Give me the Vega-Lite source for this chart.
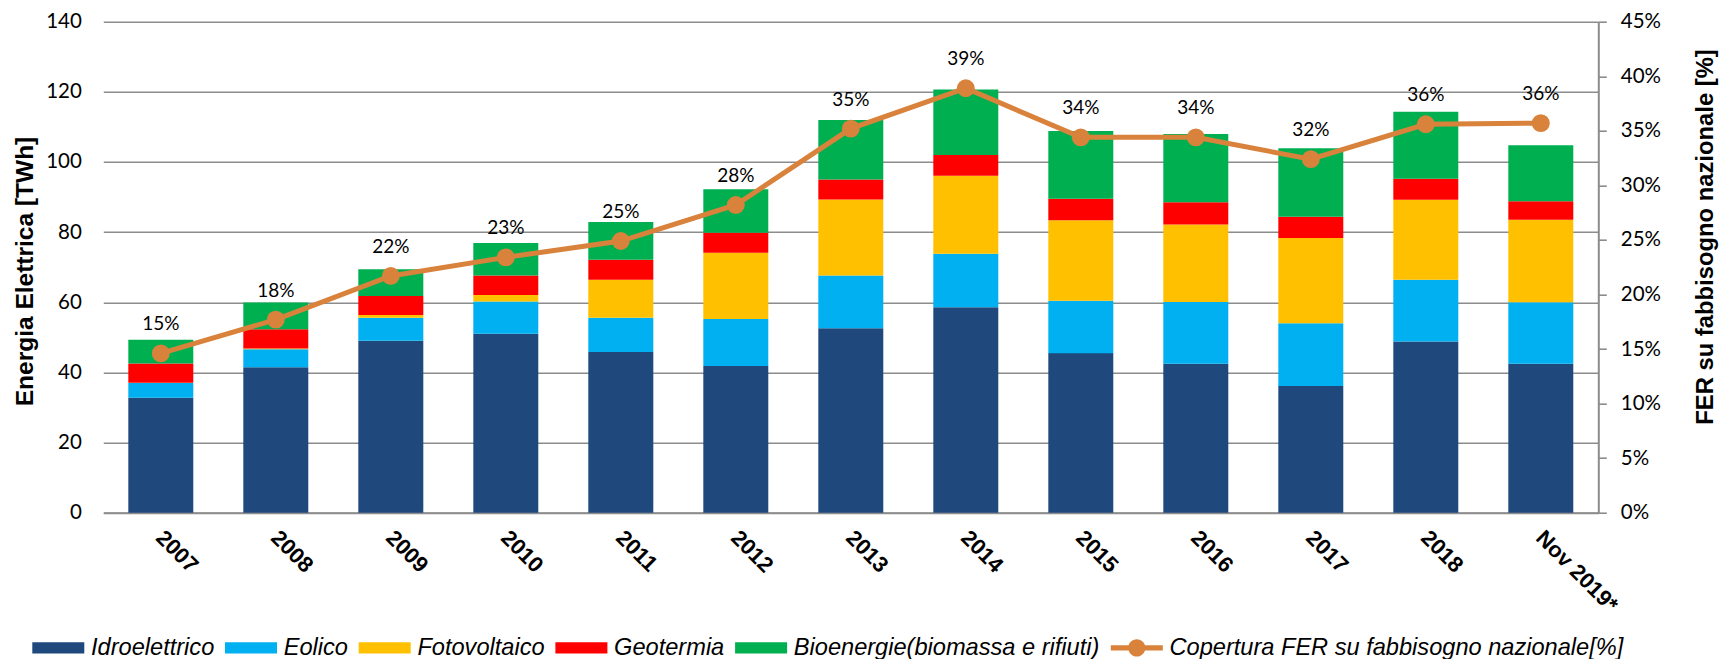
{
  "$schema": "https://vega.github.io/schema/vega-lite/v6.json",
  "autosize": {"type": "none"},
  "width": 1495,
  "height": 491,
  "padding": {"left": 103.3, "top": 21.7, "right": 121.7, "bottom": 146.3},
  "background": "white",
  "config": {
    "view": {"stroke": null},
    "axis": {"labelColor": "#000000", "titleColor": "#000000"}
  },
  "datasets": {
    "bars": [
      {"anno": "2007", "fonte": "Idroelettrico", "twh": 32.8},
      {"anno": "2007", "fonte": "Eolico", "twh": 4.2},
      {"anno": "2007", "fonte": "Fotovoltaico", "twh": 0.04},
      {"anno": "2007", "fonte": "Geotermia", "twh": 5.5},
      {"anno": "2007", "fonte": "Bioenergie(biomassa e rifiuti)", "twh": 6.8},
      {"anno": "2008", "fonte": "Idroelettrico", "twh": 41.5},
      {"anno": "2008", "fonte": "Eolico", "twh": 5.1},
      {"anno": "2008", "fonte": "Fotovoltaico", "twh": 0.2},
      {"anno": "2008", "fonte": "Geotermia", "twh": 5.5},
      {"anno": "2008", "fonte": "Bioenergie(biomassa e rifiuti)", "twh": 7.6},
      {"anno": "2009", "fonte": "Idroelettrico", "twh": 49.0},
      {"anno": "2009", "fonte": "Eolico", "twh": 6.6},
      {"anno": "2009", "fonte": "Fotovoltaico", "twh": 0.8},
      {"anno": "2009", "fonte": "Geotermia", "twh": 5.4},
      {"anno": "2009", "fonte": "Bioenergie(biomassa e rifiuti)", "twh": 7.6},
      {"anno": "2010", "fonte": "Idroelettrico", "twh": 51.0},
      {"anno": "2010", "fonte": "Eolico", "twh": 9.2},
      {"anno": "2010", "fonte": "Fotovoltaico", "twh": 1.9},
      {"anno": "2010", "fonte": "Geotermia", "twh": 5.5},
      {"anno": "2010", "fonte": "Bioenergie(biomassa e rifiuti)", "twh": 9.3},
      {"anno": "2011", "fonte": "Idroelettrico", "twh": 45.8},
      {"anno": "2011", "fonte": "Eolico", "twh": 9.8},
      {"anno": "2011", "fonte": "Fotovoltaico", "twh": 10.8},
      {"anno": "2011", "fonte": "Geotermia", "twh": 5.7},
      {"anno": "2011", "fonte": "Bioenergie(biomassa e rifiuti)", "twh": 10.8},
      {"anno": "2012", "fonte": "Idroelettrico", "twh": 41.8},
      {"anno": "2012", "fonte": "Eolico", "twh": 13.4},
      {"anno": "2012", "fonte": "Fotovoltaico", "twh": 18.9},
      {"anno": "2012", "fonte": "Geotermia", "twh": 5.7},
      {"anno": "2012", "fonte": "Bioenergie(biomassa e rifiuti)", "twh": 12.4},
      {"anno": "2013", "fonte": "Idroelettrico", "twh": 52.6},
      {"anno": "2013", "fonte": "Eolico", "twh": 15.0},
      {"anno": "2013", "fonte": "Fotovoltaico", "twh": 21.7},
      {"anno": "2013", "fonte": "Geotermia", "twh": 5.7},
      {"anno": "2013", "fonte": "Bioenergie(biomassa e rifiuti)", "twh": 17.0},
      {"anno": "2014", "fonte": "Idroelettrico", "twh": 58.6},
      {"anno": "2014", "fonte": "Eolico", "twh": 15.2},
      {"anno": "2014", "fonte": "Fotovoltaico", "twh": 22.3},
      {"anno": "2014", "fonte": "Geotermia", "twh": 5.9},
      {"anno": "2014", "fonte": "Bioenergie(biomassa e rifiuti)", "twh": 18.7},
      {"anno": "2015", "fonte": "Idroelettrico", "twh": 45.5},
      {"anno": "2015", "fonte": "Eolico", "twh": 14.9},
      {"anno": "2015", "fonte": "Fotovoltaico", "twh": 23.0},
      {"anno": "2015", "fonte": "Geotermia", "twh": 6.1},
      {"anno": "2015", "fonte": "Bioenergie(biomassa e rifiuti)", "twh": 19.3},
      {"anno": "2016", "fonte": "Idroelettrico", "twh": 42.5},
      {"anno": "2016", "fonte": "Eolico", "twh": 17.6},
      {"anno": "2016", "fonte": "Fotovoltaico", "twh": 22.1},
      {"anno": "2016", "fonte": "Geotermia", "twh": 6.3},
      {"anno": "2016", "fonte": "Bioenergie(biomassa e rifiuti)", "twh": 19.5},
      {"anno": "2017", "fonte": "Idroelettrico", "twh": 36.1},
      {"anno": "2017", "fonte": "Eolico", "twh": 17.9},
      {"anno": "2017", "fonte": "Fotovoltaico", "twh": 24.3},
      {"anno": "2017", "fonte": "Geotermia", "twh": 6.1},
      {"anno": "2017", "fonte": "Bioenergie(biomassa e rifiuti)", "twh": 19.5},
      {"anno": "2018", "fonte": "Idroelettrico", "twh": 48.8},
      {"anno": "2018", "fonte": "Eolico", "twh": 17.6},
      {"anno": "2018", "fonte": "Fotovoltaico", "twh": 22.8},
      {"anno": "2018", "fonte": "Geotermia", "twh": 6.0},
      {"anno": "2018", "fonte": "Bioenergie(biomassa e rifiuti)", "twh": 19.1},
      {"anno": "Nov 2019*", "fonte": "Idroelettrico", "twh": 42.5},
      {"anno": "Nov 2019*", "fonte": "Eolico", "twh": 17.5},
      {"anno": "Nov 2019*", "fonte": "Fotovoltaico", "twh": 23.5},
      {"anno": "Nov 2019*", "fonte": "Geotermia", "twh": 5.3},
      {"anno": "Nov 2019*", "fonte": "Bioenergie(biomassa e rifiuti)", "twh": 16.0}
    ],
    "fer": [
      {"anno": "2007", "copertura": 0.146},
      {"anno": "2008", "copertura": 0.177},
      {"anno": "2009", "copertura": 0.217},
      {"anno": "2010", "copertura": 0.234},
      {"anno": "2011", "copertura": 0.249},
      {"anno": "2012", "copertura": 0.282},
      {"anno": "2013", "copertura": 0.352},
      {"anno": "2014", "copertura": 0.389},
      {"anno": "2015", "copertura": 0.344},
      {"anno": "2016", "copertura": 0.344},
      {"anno": "2017", "copertura": 0.324},
      {"anno": "2018", "copertura": 0.356},
      {"anno": "Nov 2019*", "copertura": 0.357}
    ]
  },
  "encoding": {
    "x": {
      "field": "anno",
      "type": "nominal",
      "sort": ["2007", "2008", "2009", "2010", "2011", "2012", "2013", "2014", "2015", "2016", "2017", "2018", "Nov 2019*"],
      "scale": {"paddingInner": 0.435, "paddingOuter": 0.2175},
      "axis": {
        "title": null,
        "labelAngle": 45,
        "labelFont": "Liberation Sans",
        "labelFontWeight": "bold",
        "labelFontSize": 22,
        "labelPadding": 14,
        "labelOffset": 6,
        "ticks": false,
        "domainColor": "#8c8c8c",
        "domainWidth": 2
      }
    }
  },
  "layer": [
    {
      "data": {"name": "bars"},
      "mark": {"type": "bar"},
      "encoding": {
        "y": {
          "field": "twh",
          "type": "quantitative",
          "aggregate": "sum",
          "stack": "zero",
          "scale": {"domain": [0, 140], "nice": false},
          "axis": {
            "title": "Energia Elettrica [TWh]",
            "titleFont": "Liberation Sans",
            "titleFontWeight": "bold",
            "titleFontSize": 24.5,
            "titleAngle": 270,
            "titleAlign": "center",
            "titleBaseline": "alphabetic",
            "titleX": -71.3,
            "titleY": 249.3,
            "values": [0, 20, 40, 60, 80, 100, 120, 140],
            "labelFont": "Lato",
            "labelFontSize": 20.5,
            "labelPadding": 22,
            "ticks": false,
            "domain": false,
            "grid": true,
            "gridColor": "#8c8c8c",
            "gridWidth": 1.6
          }
        },
        "color": {
          "field": "fonte",
          "type": "nominal",
          "scale": {
            "domain": ["Idroelettrico", "Eolico", "Fotovoltaico", "Geotermia", "Bioenergie(biomassa e rifiuti)", "Copertura FER su fabbisogno nazionale[%]"],
            "range": ["#1f497d", "#00b0f0", "#ffc000", "#ff0000", "#00b050", "#d9823b"]
          },
          "legend": {
            "title": null,
            "orient": "none",
            "direction": "horizontal",
            "columns": 6,
            "legendX": -71,
            "legendY": 600,
            "padding": 0,
            "symbolType": "M-1,-0.22H1V0.22H-1Z",
            "symbolSize": 2704,
            "symbolStrokeWidth": 0,
            "symbolOpacity": 1,
            "labelFont": "Liberation Sans",
            "labelFontStyle": "italic",
            "labelFontSize": 23.6,
            "labelColor": "#000000",
            "labelOffset": 6.7,
            "columnPadding": 10.7,
            "labelLimit": 600,
            "encode": {
              "symbols": {
                "update": {
                  "shape": {"signal": "datum.value === 'Copertura FER su fabbisogno nazionale[%]' ? 'M-1,-0.1H1V0.1H-1Z M0.33,0A0.33,0.33 0 1,1 -0.33,0A0.33,0.33 0 1,1 0.33,0Z' : 'M-1,-0.22H1V0.22H-1Z'"}
                }
              }
            }
          }
        },
        "order": {"field": "fonte_ord", "type": "quantitative"}
      }
    },
    {
      "data": {"name": "fer"},
      "encoding": {
        "y": {
          "field": "copertura",
          "type": "quantitative",
          "scale": {"domain": [0, 0.45], "nice": false}
        }
      },
      "layer": [
        {
          "mark": {"type": "line", "strokeWidth": 5},
          "encoding": {
            "color": {"datum": "Copertura FER su fabbisogno nazionale[%]"},
            "y": {
              "field": "copertura",
              "type": "quantitative",
              "scale": {"domain": [0, 0.45], "nice": false},
              "axis": {
                "orient": "right",
                "title": "FER su fabbisogno nazionale [%]",
                "titleFont": "Liberation Sans",
                "titleFontWeight": "bold",
                "titleFontSize": 23.8,
                "titleAngle": 270,
                "titleAlign": "center",
                "titleBaseline": "alphabetic",
                "titleX": 113.7,
                "titleY": 214.8,
                "values": [0, 0.05, 0.1, 0.15, 0.2, 0.25, 0.3, 0.35, 0.4, 0.45],
                "format": ".0%",
                "labelFont": "Lato",
                "labelFontSize": 20.5,
                "labelPadding": 14,
                "tickSize": 8,
                "tickColor": "#8c8c8c",
                "tickWidth": 1.6,
                "domainColor": "#8c8c8c",
                "domainWidth": 2,
                "grid": false
              }
            }
          }
        },
        {
          "mark": {"type": "point", "filled": true, "size": 320, "opacity": 1},
          "encoding": {
            "color": {"datum": "Copertura FER su fabbisogno nazionale[%]"}
          }
        },
        {
          "mark": {"type": "text", "dy": -29, "font": "Lato", "fontSize": 19, "color": "#000000", "baseline": "middle"},
          "encoding": {
            "text": {"field": "copertura", "type": "quantitative", "format": ".0%"}
          }
        }
      ]
    }
  ],
  "resolve": {"scale": {"y": "independent"}}
}
